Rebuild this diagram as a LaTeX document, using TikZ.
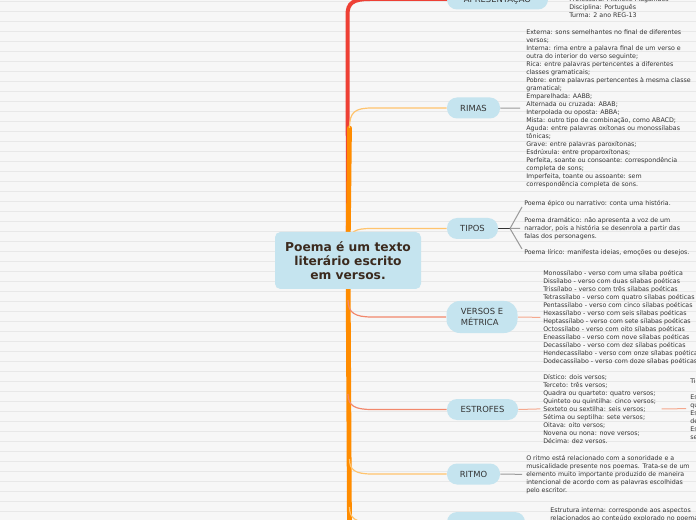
\documentclass[tikz,border=0pt]{standalone}
\usepackage{fontspec}
\setmainfont{DejaVu Sans}
\usetikzlibrary{calc}
\definecolor{bgc}{HTML}{F7F7F7}
\definecolor{rulec}{HTML}{E8E8E8}
\definecolor{nodefill}{HTML}{C5E4EF}
\definecolor{redb}{HTML}{EE4035}
\definecolor{orangeb}{HTML}{FF8C00}
\definecolor{lorange}{HTML}{FFC46E}
\definecolor{salmon}{HTML}{F2886C}
\definecolor{lsalmon}{HTML}{F5A88E}
\definecolor{lpink}{HTML}{F4A3A3}
\definecolor{childgray}{HTML}{9A9A9A}
\definecolor{txt}{HTML}{333333}
\definecolor{ctrtxt}{HTML}{3B2A1E}
\pgfdeclarelayer{bg}\pgfdeclarelayer{edges}\pgfsetlayers{bg,edges,main}
\begin{document}
\begin{tikzpicture}[x=0.75pt,y=-0.75pt,
  branch/.style={fill=nodefill, rounded corners=7.5pt, minimum height=15.75pt, inner sep=0pt,
    font=\fontsize{6.3}{7.9}\selectfont, text=txt},
  info/.style={anchor=north west, inner sep=0pt, align=left, font=\fontsize{4.72}{6}\selectfont, text=txt},
  trunk/.style={line width=3pt, line cap=round},
  twig/.style={line width=0.9pt},
  leaf/.style={line width=0.75pt}]
\useasboundingbox (0,0) rectangle (696,520);
\begin{pgfonlayer}{bg}
\fill[bgc] (0,0) rectangle (696,520);
\foreach \k in {0,...,51} \draw[rulec, line width=0.6pt] (0,1+10*\k) -- (696,1+10*\k);
\end{pgfonlayer}

% central node
\node[fill=nodefill, rounded corners=4pt, minimum width=109.5pt, minimum height=42.75pt, inner sep=0pt,
  align=center, font=\bfseries\fontsize{9.2}{10.5}\selectfont, text=ctrtxt] (ctr) at (348,260.5)
  {Poema é um texto\\literário escrito\\em versos.};

% branch nodes
\node[branch, minimum width=75.75pt] (apres) at (497.5,-1) {APRESENTAÇÃO};
\node[branch, minimum width=39.75pt] (rimas) at (473.5,108) {RIMAS};
\node[branch, minimum width=38.25pt] (tipos) at (472.5,228.5) {TIPOS};
\node[branch, minimum width=53.25pt, minimum height=24pt, rounded corners=10pt, align=left] (versos) at (482,317) {VERSOS E\\MÉTRICA};
\node[branch, minimum width=53.25pt] (estrofes) at (482.5,409.5) {ESTROFES};
\node[branch, minimum width=39.75pt] (ritmo) at (473.5,474) {RITMO};
\node[branch, minimum width=58.5pt] (bottom) at (486,522.5) {};

% texts
\node[info] (aptxt) at (569,-4) {Professora: Michelle Magalhães\\Disciplina: Português\\Turma: 2 ano REG-13};
\node[info] (rimastxt) at (526,29) {Externa: sons semelhantes no final de diferentes\\versos;\\Interna: rima entre a palavra final de um verso e\\outra do interior do verso seguinte;\\Rica: entre palavras pertencentes a diferentes\\classes gramaticais;\\Pobre: entre palavras pertencentes à mesma classe\\gramatical;\\Emparelhada: AABB;\\Alternada ou cruzada: ABAB;\\Interpolada ou oposta: ABBA;\\Mista: outro tipo de combinação, como ABACD;\\Aguda: entre palavras oxítonas ou monossílabas\\tônicas;\\Grave: entre palavras paroxítonas;\\Esdrúxula: entre proparoxítonas;\\Perfeita, soante ou consoante: correspondência\\completa de sons;\\Imperfeita, toante ou assoante: sem\\correspondência completa de sons.};
\node[info] (tip1) at (524,200) {Poema épico ou narrativo: conta uma história.};
\node[info] (tip2) at (524,217) {Poema dramático: não apresenta a voz de um\\narrador, pois a história se desenrola a partir das\\falas dos personagens.};
\node[info] (tip3) at (524,249) {Poema lírico: manifesta ideias, emoções ou desejos.};
\node[info] (verstxt) at (543,270) {Monossílabo - verso com uma sílaba poética\\Dissílabo - verso com duas sílabas poéticas\\Trissílabo - verso com três sílabas poéticas\\Tetrassílabo - verso com quatro sílabas poéticas\\Pentassílabo - verso com cinco sílabas poéticas\\Hexassílabo - verso com seis sílabas poéticas\\Heptassílabo - verso com sete sílabas poéticas\\Octossílabo - verso com oito sílabas poéticas\\Eneassílabo - verso com nove sílabas poéticas\\Decassílabo - verso com dez sílabas poéticas\\Hendecassílabo - verso com onze sílabas poéticas\\Dodecassílabo - verso com doze sílabas poéticas};
\node[info] (esttxt) at (543,374) {Dístico: dois versos;\\Terceto: três versos;\\Quadra ou quarteto: quatro versos;\\Quinteto ou quintilha: cinco versos;\\Sexteto ou sextilha: seis versos;\\Sétima ou septilha: sete versos;\\Oitava: oito versos;\\Novena ou nona: nove versos;\\Décima: dez versos.};
\node[info] (estright) at (690,378) {Tipos\\ \\Estrofe\\quando\\Estrofe\\de\\Estrofe\\se};
\node[info] (ritmotxt) at (526,455) {O ritmo está relacionado com a sonoridade e a\\musicalidade presente nos poemas. Trata-se de um\\elemento muito importante produzido de maneira\\intencional de acordo com as palavras escolhidas\\pelo escritor.};
\node[info] (bottxt) at (550,507) {Estrutura interna: corresponde aos aspectos\\relacionados ao conteúdo explorado no poema};

\coordinate (aptip) at (565,-1);
\coordinate (tfork) at (510,228.5);

\begin{pgfonlayer}{edges}
% trunks
\draw[trunk, redb] (ctr.center) -- (347.5,15) .. controls (347.5,3) and (353,-1) .. (370,-1) -- (apres.west);
\draw[trunk, orangeb, line width=3.6pt] (ctr.center) -- (349.5,128);
\draw[trunk, orangeb, line width=3.6pt] (ctr.center) -- (349.5,530);
% branch curves
\draw[twig, lorange] (349.5,128) .. controls (349.5,112) and (355,108) .. (372,108) -- (rimas.west);
\draw[twig, lorange] (349.5,243) .. controls (349.5,231) and (355,228.5) .. (372,228.5) -- (tipos.west);
\draw[twig, salmon] (348,300) .. controls (348,313) and (355,317) .. (372,317) -- (versos.west);
\draw[twig, salmon] (348,394) .. controls (348,406) and (355,409.5) .. (372,409.5) -- (estrofes.west);
\draw[twig, lorange] (349.5,459) .. controls (349.5,470) and (355,474) .. (372,474) -- (ritmo.west);
\draw[twig, lorange] (349.5,507) .. controls (349.5,518) and (355,522.5) .. (372,522.5) -- (bottom.west);
% child connectors
\draw[leaf, lpink] (apres.east) -- (aptip);
\draw[leaf, childgray, shorten >=4.5pt] (rimas.east) -- (rimastxt.west);
\draw[line width=0.9pt, txt] (tipos.east) -- (tfork);
\draw[leaf, childgray, shorten >=3pt] (tfork) -- (tip1.west);
\draw[leaf, childgray, shorten >=3pt] (tfork) -- (tip2.west);
\draw[leaf, childgray, shorten >=3pt] (tfork) -- (tip3.west);
\draw[leaf, lsalmon, shorten >=2pt] (versos.east) -- (verstxt.west);
\draw[leaf, lsalmon, shorten >=2pt] (estrofes.east) -- (esttxt.west);
\draw[leaf, lsalmon, shorten <=4pt, shorten >=3pt] (esttxt.east) -- (estright.west);
\draw[leaf, childgray, shorten >=3pt] (ritmo.east) -- (ritmotxt.west);
\end{pgfonlayer}
\end{tikzpicture}
\end{document}
